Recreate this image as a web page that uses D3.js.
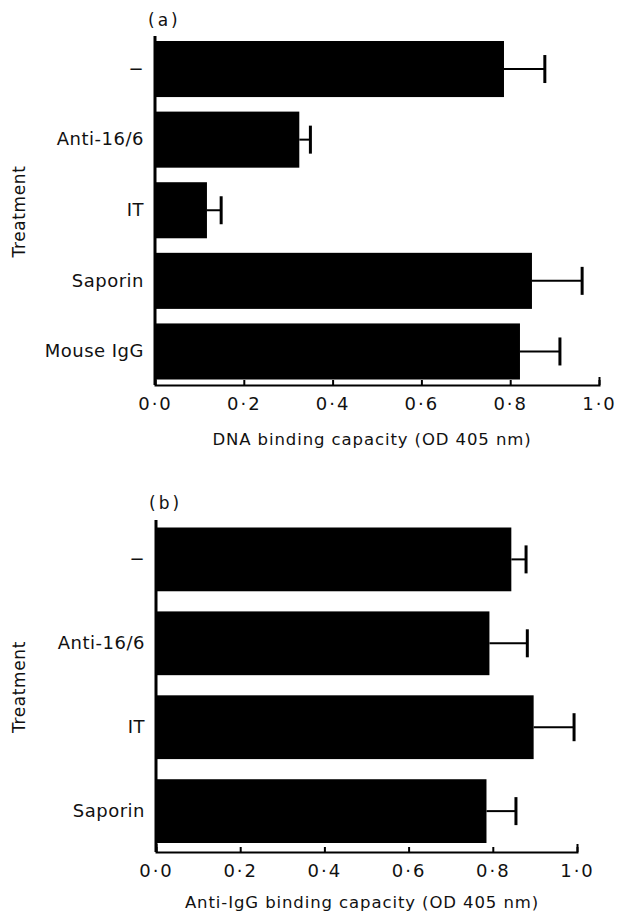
<!DOCTYPE html>
<html>
<head>
<meta charset="utf-8">
<script src="https://cdn.jsdelivr.net/npm/d3@7"></script>
<style>
	body { margin: 0; background: #fff; }
	text { font-family: 'DejaVu Sans', sans-serif; fill: #111; }
</style>
</head>
<body>
<div id="canvas"></div>
<script>
// Data
const treatmentsA = ['−', 'Anti-16/6', 'IT', 'Saporin', 'Mouse IgG']
const dnaBinding = [0.786, 0.325, 0.117, 0.849, 0.822]
const dnaBindingErr = [0.092, 0.025, 0.032, 0.113, 0.090]

const treatmentsB = ['−', 'Anti-16/6', 'IT', 'Saporin']
const iggBinding = [0.844, 0.792, 0.897, 0.785]
const iggBindingErr = [0.035, 0.090, 0.096, 0.070]

const xTicks = [0, 0.2, 0.4, 0.6, 0.8, 1.0]

const width = 619, height = 918
const svg = d3.select('#canvas').append('svg').attr('width', width).attr('height', height)

function fmt(v) {
	return v.toFixed(1).replace('.', '·')
}

// Draw one panel
function drawPanel(opts) {
	const {cats, values, errs, x0, x1, top, bottom, barTop, barBottom, pad, tag, tagY, title, titleX, titleY} = opts
	const g = svg.append('g')

	const x = d3.scaleLinear().domain([0, 1]).range([x0, x1])
	const y = d3.scaleBand().domain(cats).range([barTop, barBottom]).paddingInner(pad)

	// bars
	g.selectAll('.bar')
		.data(cats).enter()
		.append('rect')
		.attr('x', x(0))
		.attr('y', d => y(d))
		.attr('width', (d, i) => x(values[i]) - x(0))
		.attr('height', y.bandwidth())
		.attr('fill', '#000')

	// error bars
	const err = g.selectAll('.err').data(cats).enter().append('g')
	err.append('line')
		.attr('x1', (d, i) => x(values[i]))
		.attr('x2', (d, i) => x(values[i] + errs[i]))
		.attr('y1', d => y(d) + y.bandwidth() / 2)
		.attr('y2', d => y(d) + y.bandwidth() / 2)
		.attr('stroke', '#000').attr('stroke-width', 2)
	err.append('line')
		.attr('x1', (d, i) => x(values[i] + errs[i]))
		.attr('x2', (d, i) => x(values[i] + errs[i]))
		.attr('y1', d => y(d) + y.bandwidth() / 2 - 14)
		.attr('y2', d => y(d) + y.bandwidth() / 2 + 14)
		.attr('stroke', '#000').attr('stroke-width', 3)

	// y axis line + category labels
	g.append('line')
		.attr('x1', x0).attr('x2', x0).attr('y1', top).attr('y2', bottom)
		.attr('stroke', '#000').attr('stroke-width', 3)

	const yAxis = g.append('g')
		.attr('transform', `translate(${x0},0)`)
		.call(d3.axisLeft(y).tickSize(0).tickPadding(11))
	yAxis.select('.domain').remove()
	yAxis.selectAll('text')
		.attr('font-size', 18).attr('letter-spacing', 0.5)
		.attr('font-family', 'DejaVu Sans')

	// x axis, ticks pointing inwards
	const xAxis = g.append('g')
		.attr('transform', `translate(0,${bottom})`)
		.call(d3.axisBottom(x).tickValues(xTicks).tickFormat(fmt)
			.tickSizeInner(-5).tickSizeOuter(-8).tickPadding(12))
	xAxis.select('.domain').attr('stroke-width', 2)
	xAxis.selectAll('.tick line').attr('stroke-width', 2)
	xAxis.selectAll('text')
		.attr('font-size', 18).attr('letter-spacing', 2)
		.attr('font-family', 'DejaVu Sans')

	// titles
	g.append('text')
		.attr('x', titleX).attr('y', titleY)
		.attr('text-anchor', 'middle')
		.attr('font-size', 16.5).attr('letter-spacing', 0.9)
		.text(title)

	g.append('text')
		.attr('transform', `translate(25,${(top + bottom) / 2 + 1}) rotate(-90)`)
		.attr('text-anchor', 'middle')
		.attr('font-size', 17).attr('letter-spacing', 0.6)
		.text('Treatment')

	g.append('text')
		.attr('x', x0 - 7).attr('y', tagY)
		.attr('font-size', 17).attr('letter-spacing', 3)
		.text(tag)
}

drawPanel({
	cats: treatmentsA, values: dnaBinding, errs: dnaBindingErr,
	x0: 155, x1: 599, top: 36, bottom: 385, barTop: 41, barBottom: 379.5, pad: 0.206,
	tag: '(a)', tagY: 26, title: 'DNA binding capacity (OD 405 nm)', titleX: 372, titleY: 445,
})

drawPanel({
	cats: treatmentsB, values: iggBinding, errs: iggBindingErr,
	x0: 156, x1: 577, top: 520, bottom: 852, barTop: 527.5, barBottom: 843, pad: 0.24,
	tag: '(b)', tagY: 509, title: 'Anti-IgG binding capacity (OD 405 nm)', titleX: 362, titleY: 908,
})
</script>
</body>
</html>
